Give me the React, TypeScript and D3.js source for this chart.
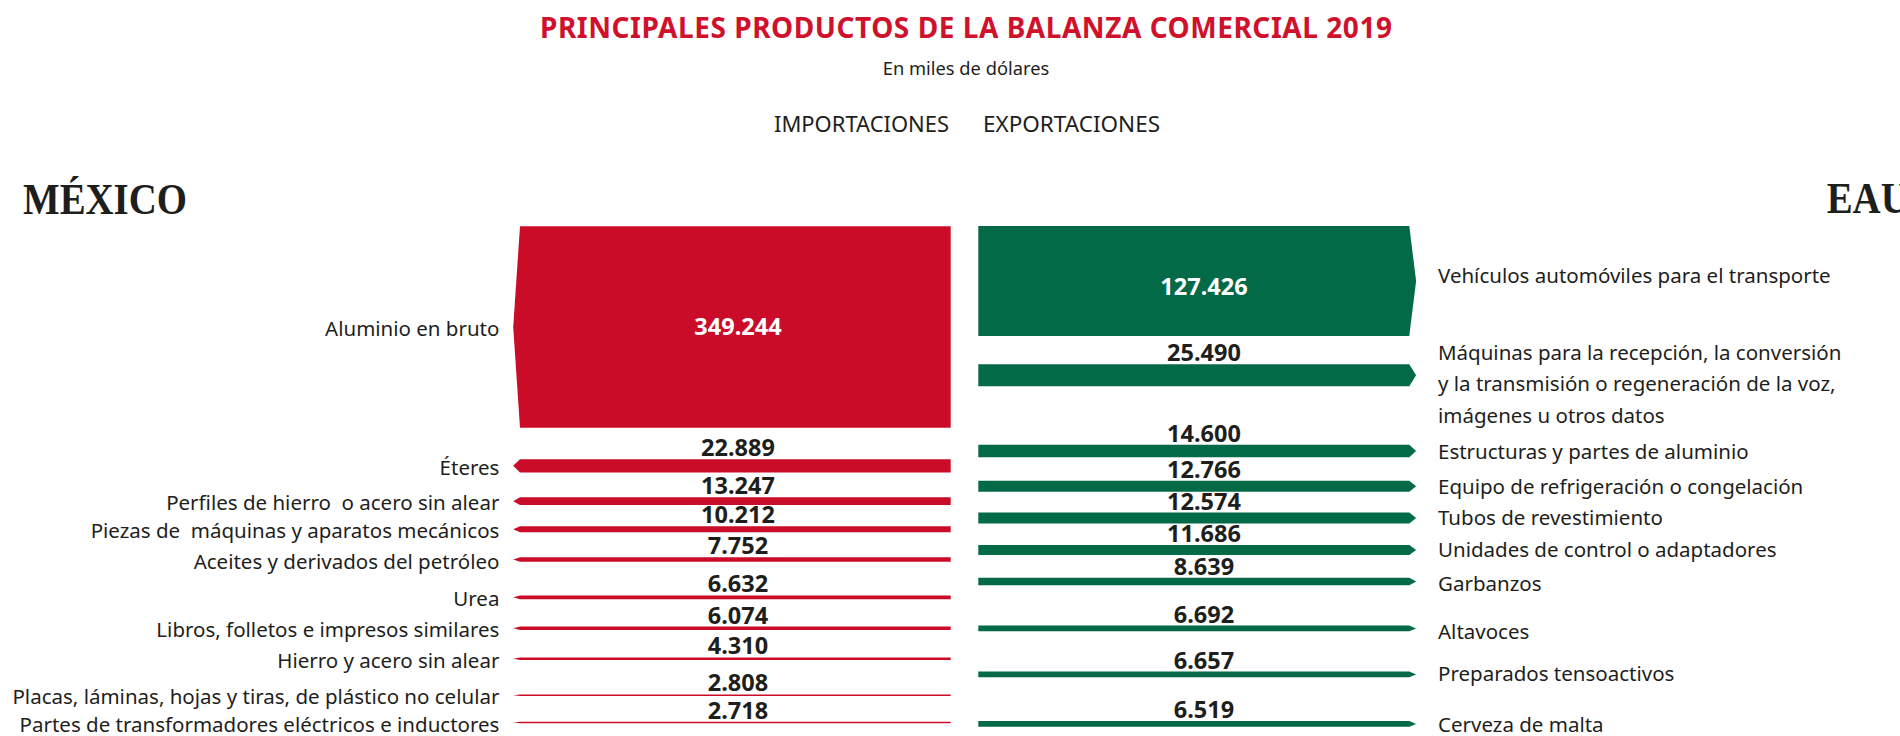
import React from "react";
import * as d3 from "d3";

// ---------- DATA ----------
const importLabels = [
  "Aluminio en bruto",
  "Éteres",
  "Perfiles de hierro  o acero sin alear",
  "Piezas de  máquinas y aparatos mecánicos",
  "Aceites y derivados del petróleo",
  "Urea",
  "Libros, folletos e impresos similares",
  "Hierro y acero sin alear",
  "Placas, láminas, hojas y tiras, de plástico no celular",
  "Partes de transformadores eléctricos e inductores",
];
const importValues = [349244, 22889, 13247, 10212, 7752, 6632, 6074, 4310, 2808, 2718];

const exportLabels = [
  "Vehículos automóviles para el transporte",
  "Máquinas para la recepción, la conversión|y la transmisión o regeneración de la voz,|imágenes u otros datos",
  "Estructuras y partes de aluminio",
  "Equipo de refrigeración o congelación",
  "Tubos de revestimiento",
  "Unidades de control o adaptadores",
  "Garbanzos",
  "Altavoces",
  "Preparados tensoactivos",
  "Cerveza de malta",
];
const exportValues = [127426, 25490, 14600, 12766, 12574, 11686, 8639, 6692, 6657, 6519];

const titleText = "PRINCIPALES PRODUCTOS DE LA BALANZA COMERCIAL 2019";
const subtitleText = "En miles de dólares";
const sideHeaders = ["IMPORTACIONES", "EXPORTACIONES"];
const countries = ["MÉXICO", "EAU"];

// ---------- LAYOUT (row centre positions of this infographic) ----------
const importRowCenters = [327, 465.8, 501.2, 529.2, 559.5, 597.3, 628.3, 658.7, 695.2, 722.5];
const exportRowCenters = [281, 375.3, 451, 486.2, 518, 550, 581.4, 628.4, 674.4, 723.9];
const exportLabelShift = [-6, 8, 0, 0, -1, -1, 2, 3, -1, 0];

const W = 1900;
const H = 736;
const RED = "#CB0C28";
const TITLE_RED = "#D0112B";
const GREEN = "#036A47";
const INK = "#1e1e1c";
const SANS = "'Noto Sans', 'Open Sans', sans-serif";
const SERIF = "'Liberation Serif', 'DejaVu Serif', serif";

const redX0 = 520;
const redX1 = 950.7;
const greenX0 = 978.3;
const greenX1 = 1409.3;
const tip = 6.8;

const locale = d3.formatLocale({ decimal: ",", thousands: ".", grouping: [3], currency: ["$", ""] });
const fmt = locale.format(",d");

export default function App() {
  const hImp = d3.scaleLinear().domain([0, d3.max(importValues) as number]).range([0, 201.7]);
  const hExp = d3.scaleLinear().domain([0, d3.max(exportValues) as number]).range([0, 110]);

  const redPath = (cy: number, h: number) => {
    const p = d3.path();
    p.moveTo(redX0, cy - h / 2);
    p.lineTo(redX1, cy - h / 2);
    p.lineTo(redX1, cy + h / 2);
    p.lineTo(redX0, cy + h / 2);
    p.lineTo(redX0 - tip, cy);
    p.closePath();
    return p.toString();
  };
  const greenPath = (cy: number, h: number) => {
    const p = d3.path();
    p.moveTo(greenX0, cy - h / 2);
    p.lineTo(greenX1, cy - h / 2);
    p.lineTo(greenX1 + tip, cy);
    p.lineTo(greenX1, cy + h / 2);
    p.lineTo(greenX0, cy + h / 2);
    p.closePath();
    return p.toString();
  };

  const serifScale = 0.883;

  return (
    <svg
      width={W}
      height={H}
      style={{ position: "absolute", left: 0, top: 0, background: "#fff" }}
      xmlns="http://www.w3.org/2000/svg"
    >
      <rect x={0} y={0} width={W} height={H} fill="#fff" />
      {/* Title */}
      <text
        x={966}
        y={38.3}
        textAnchor="middle"
        fontFamily={SANS}
        fontWeight={700}
        fontSize={28}
        fill={TITLE_RED}
        textLength={852}
        lengthAdjust="spacing"
      >
        {titleText}
      </text>
      <text x={966} y={75} textAnchor="middle" fontFamily={SANS} fontSize={18.3} fill={INK}>
        {subtitleText}
      </text>
      <text x={774} y={131.7} fontFamily={SANS} fontSize={21.5} fill={INK} textLength={175} lengthAdjust="spacingAndGlyphs">
        {sideHeaders[0]}
      </text>
      <text x={983} y={131.7} fontFamily={SANS} fontSize={21.5} fill={INK} textLength={177} lengthAdjust="spacingAndGlyphs">
        {sideHeaders[1]}
      </text>

      {/* Country names */}
      <g transform={`scale(${serifScale},1)`}>
        <text x={23 / serifScale} y={214} fontFamily={SERIF} fontWeight={700} fontSize={44} fill={INK}>
          {countries[0]}
        </text>
        <text x={1826.7 / serifScale} y={213} fontFamily={SERIF} fontWeight={700} fontSize={44} fill={INK}>
          {countries[1]}
        </text>
      </g>

      {/* Imports */}
      {importValues.map((v, i) => {
        const cy = importRowCenters[i];
        const h = hImp(v);
        const top = cy - h / 2;
        const inside = i === 0;
        return (
          <g key={"imp" + i}>
            <path d={redPath(cy, h)} fill={RED} />
            <text
              x={499.4}
              y={cy + 1}
              textAnchor="end"
              dominantBaseline="central"
              fontFamily={SANS}
              fontSize={20.5}
              fill={INK}
              style={{ whiteSpace: "pre" }}
            >
              {importLabels[i]}
            </text>
            <text
              x={738}
              y={inside ? cy + 6.3 + 2 : top - 3}
              textAnchor="middle"
              fontFamily={SANS}
              fontWeight={700}
              fontSize={23.5}
              fill={inside ? "#fff" : INK}
            >
              {fmt(v)}
            </text>
          </g>
        );
      })}

      {/* Exports */}
      {exportValues.map((v, i) => {
        const cy = exportRowCenters[i];
        const h = hExp(v);
        const top = cy - h / 2;
        const inside = i === 0;
        const lines = exportLabels[i].split("|");
        const lineGap = 31.7;
        return (
          <g key={"exp" + i}>
            <path d={greenPath(cy, h)} fill={GREEN} />
            {lines.map((ln, j) => (
              <text
                key={j}
                x={1438}
                y={cy + exportLabelShift[i] + (j - (lines.length - 1) / 2) * lineGap}
                dominantBaseline="central"
                fontFamily={SANS}
                fontSize={20.5}
                fill={INK}
              >
                {ln}
              </text>
            ))}
            <text
              x={1204}
              y={inside ? cy + 14 : top - 3}
              textAnchor="middle"
              fontFamily={SANS}
              fontWeight={700}
              fontSize={23.5}
              fill={inside ? "#fff" : INK}
            >
              {fmt(v)}
            </text>
          </g>
        );
      })}
    </svg>
  );
}
